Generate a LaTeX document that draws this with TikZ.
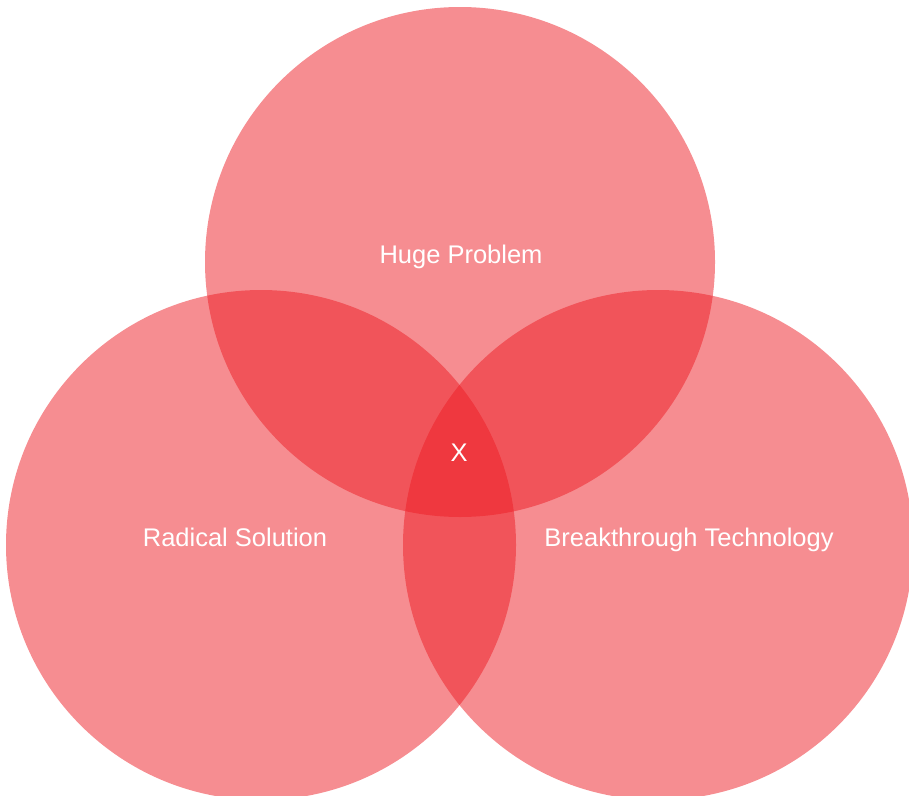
\documentclass[tikz,border=0pt]{standalone}
\usepackage{fontspec}
\setmainfont{Liberation Sans}
\usetikzlibrary{positioning}
\definecolor{vennred}{RGB}{237,28,36}
\tikzset{
    venn/.style={fill=vennred,fill opacity=0.5},
    vennlabel/.style={text=white,font=\fontsize{25.5}{30}\selectfont,inner sep=0pt,anchor=base}
}
\begin{document}
\begin{tikzpicture}[x=1pt,y=-1pt]
    \useasboundingbox (0,0) rectangle (909,795);
    \clip (0,0) rectangle (909,795);

    % the three sets
    \fill[venn] (460,262) circle (255);
    \fill[venn] (261,545) circle (255);
    \fill[venn] (658,545) circle (255);

    % labels
    \node[vennlabel] (problem) at (461,263) {Huge Problem};
    \node[vennlabel] (solution) at (235,546) {Radical Solution};
    \node[vennlabel] (technology) at (689,546) {Breakthrough Technology};
    \node[vennlabel] (x) at (459,461) {X};
\end{tikzpicture}
\end{document}
